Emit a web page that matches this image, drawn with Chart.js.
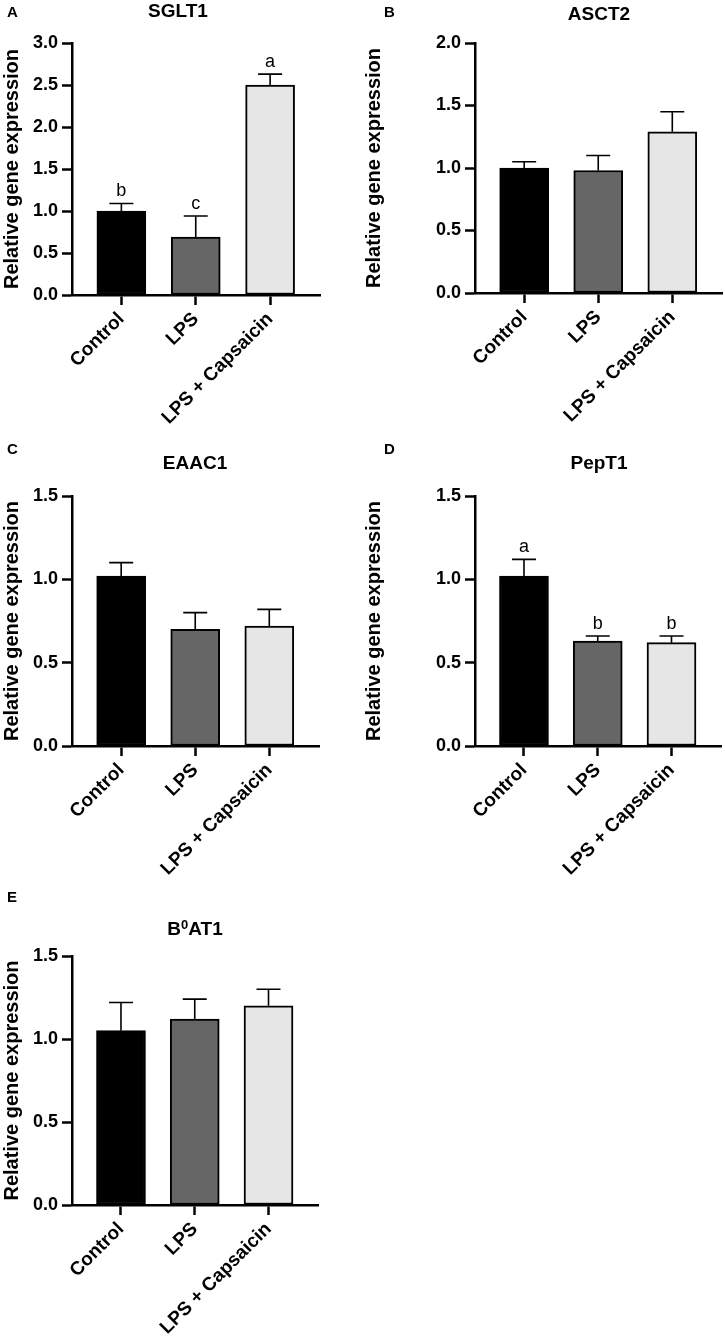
<!DOCTYPE html>
<html>
<head>
<meta charset="utf-8">
<script src="https://cdn.jsdelivr.net/npm/chart.js@4.4.1/dist/chart.umd.min.js"></script>
<style>
    body { margin: 0; background: #fff; }
    #page { position: relative; width: 725px; height: 1339px; overflow: hidden; }
    #page canvas { position: absolute; }
</style>
</head>
<body>
<div id="page">
    <canvas id="panelA" width="362" height="440" style="left:0;top:0"></canvas>
    <canvas id="panelB" width="363" height="440" style="left:362px;top:0"></canvas>
    <canvas id="panelC" width="362" height="450" style="left:0;top:440px"></canvas>
    <canvas id="panelD" width="363" height="450" style="left:362px;top:440px"></canvas>
    <canvas id="panelE" width="362" height="449" style="left:0;top:890px"></canvas>
</div>
<script>
// groups and bar colours
const groups = ['Control', 'LPS', 'LPS + Capsaicin'];
const barColors = ['#000000', '#666666', '#e6e6e6'];

// mean and SEM
const sglt1Mean = [1.00, 0.69, 2.50];
const sglt1Sem = [0.09, 0.25, 0.13];
const sglt1Sig = ['b', 'c', 'a'];

const asct2Mean = [1.00, 0.98, 1.29];
const asct2Sem = [0.05, 0.12, 0.16];

const eaac1Mean = [1.02, 0.70, 0.72];
const eaac1Sem = [0.08, 0.10, 0.10];

const pept1Mean = [1.02, 0.63, 0.62];
const pept1Sem = [0.10, 0.03, 0.04];
const pept1Sig = ['a', 'b', 'b'];

const b0at1Mean = [1.05, 1.12, 1.20];
const b0at1Sem = [0.17, 0.12, 0.10];

const FONT = "'Liberation Sans', Arial, Helvetica, sans-serif";
Chart.defaults.font.family = FONT;
Chart.defaults.color = '#000';

// upper error bars + significance letters
const errorBarPlugin = {
    id: 'errorBars',
    afterDatasetsDraw(chart, args, opts) {
        const ctx = chart.ctx;
        const meta = chart.getDatasetMeta(0);
        const yScale = chart.scales.y;
        ctx.save();
        ctx.strokeStyle = '#000';
        ctx.lineWidth = 1.6;
        meta.data.forEach((bar, i) => {
            const top = yScale.getPixelForValue(opts.mean[i] + opts.sem[i]);
            ctx.beginPath();
            ctx.moveTo(bar.x, bar.y);
            ctx.lineTo(bar.x, top);
            ctx.moveTo(bar.x - 12, top);
            ctx.lineTo(bar.x + 12, top);
            ctx.stroke();
            if (opts.sig) {
                ctx.fillStyle = '#000';
                ctx.font = '18px ' + FONT;
                ctx.textAlign = 'center';
                ctx.textBaseline = 'alphabetic';
                ctx.fillText(opts.sig[i], bar.x, top - 7);
            }
        });
        ctx.restore();
    }
};

// panel letter and gene name
const panelTextPlugin = {
    id: 'panelText',
    afterDraw(chart, args, opts) {
        const ctx = chart.ctx;
        ctx.save();
        ctx.fillStyle = '#000';
        ctx.textBaseline = 'middle';
        ctx.font = 'bold 15px ' + FONT;
        ctx.textAlign = 'left';
        ctx.fillText(opts.letter, opts.letterX, opts.letterY);

        ctx.font = 'bold 19px ' + FONT;
        if (opts.sup) {
            // title with a superscript part, e.g. B^0 AT1
            const [pre, sup, post] = opts.sup;
            const wPre = ctx.measureText(pre).width;
            const wPost = ctx.measureText(post).width;
            ctx.font = 'bold 13px ' + FONT;
            const wSup = ctx.measureText(sup).width;
            let x = opts.titleX - (wPre + wSup + wPost) / 2;
            ctx.font = 'bold 19px ' + FONT;
            ctx.fillText(pre, x, opts.titleY);
            x += wPre;
            ctx.font = 'bold 13px ' + FONT;
            ctx.fillText(sup, x, opts.titleY - 5);
            x += wSup;
            ctx.font = 'bold 19px ' + FONT;
            ctx.fillText(post, x, opts.titleY);
        } else {
            ctx.textAlign = 'center';
            ctx.fillText(opts.title, opts.titleX, opts.titleY);
        }
        ctx.restore();
    }
};

function makePanel(cfg) {
    const canvas = document.getElementById(cfg.id);
    const W = canvas.width;
    const H = canvas.height;
    const area = cfg.area; // [left, top, right, bottom] in canvas px

    return new Chart(canvas.getContext('2d'), {
        type: 'bar',
        data: {
            datasets: [{
                data: cfg.mean.map((v, i) => ({ x: i, y: v })),
                backgroundColor: barColors,
                borderColor: '#000',
                borderWidth: 2,
                borderSkipped: false,
                barThickness: 49
            }]
        },
        options: {
            responsive: false,
            animation: false,
            layout: {
                padding: { left: 0, top: area[1], right: W - area[2], bottom: 0 }
            },
            plugins: {
                legend: { display: false },
                tooltip: { enabled: false },
                errorBars: { mean: cfg.mean, sem: cfg.sem, sig: cfg.sig },
                panelText: cfg.text
            },
            scales: {
                x: {
                    type: 'linear',
                    offset: false,
                    min: -0.664,
                    max: 2.671,
                    afterBuildTicks: s => { s.ticks = [{ value: 0 }, { value: 1 }, { value: 2 }]; },
                    afterFit: s => { s.height = H - area[3]; },
                    ticks: {
                        autoSkip: false,
                        minRotation: 45,
                        maxRotation: 45,
                        padding: 3,
                        font: { size: 19, weight: 'bold' },
                        callback: v => groups[v]
                    },
                    grid: {
                        offset: false,
                        drawOnChartArea: false,
                        tickLength: 10,
                        tickWidth: 2.5,
                        tickColor: '#000'
                    },
                    border: { display: true, color: '#000', width: 2.5 }
                },
                y: {
                    min: 0,
                    max: cfg.yMax,
                    afterFit: s => { s.width = area[0]; },
                    ticks: {
                        stepSize: 0.5,
                        padding: 4,
                        font: { size: 18, weight: 'bold' },
                        callback: v => v.toFixed(1)
                    },
                    grid: {
                        drawOnChartArea: false,
                        tickLength: 10,
                        tickWidth: 2.5,
                        tickColor: '#000'
                    },
                    border: { display: true, color: '#000', width: 2.5 },
                    title: {
                        display: true,
                        text: 'Relative gene expression',
                        font: { size: 20, weight: 'bold' },
                        padding: 0
                    }
                }
            }
        },
        plugins: [errorBarPlugin, panelTextPlugin]
    });
}

makePanel({
    id: 'panelA', mean: sglt1Mean, sem: sglt1Sem, sig: sglt1Sig, yMax: 3.0,
    area: [72, 43, 320, 295],
    text: { letter: 'A', letterX: 7, letterY: 13, title: 'SGLT1', titleX: 178, titleY: 12 }
});
makePanel({
    id: 'panelB', mean: asct2Mean, sem: asct2Sem, yMax: 2.0,
    area: [113, 43, 360, 293],
    text: { letter: 'B', letterX: 22, letterY: 13, title: 'ASCT2', titleX: 237, titleY: 15 }
});
makePanel({
    id: 'panelC', mean: eaac1Mean, sem: eaac1Sem, yMax: 1.5,
    area: [72, 56, 319, 306],
    text: { letter: 'C', letterX: 7, letterY: 10, title: 'EAAC1', titleX: 195, titleY: 24 }
});
makePanel({
    id: 'panelD', mean: pept1Mean, sem: pept1Sem, sig: pept1Sig, yMax: 1.5,
    area: [113, 56, 359, 306],
    text: { letter: 'D', letterX: 22, letterY: 10, title: 'PepT1', titleX: 237, titleY: 24 }
});
makePanel({
    id: 'panelE', mean: b0at1Mean, sem: b0at1Sem, yMax: 1.5,
    area: [72, 66, 318, 315],
    text: { letter: 'E', letterX: 7, letterY: 8, sup: ['B', '0', 'AT1'], titleX: 195, titleY: 40 }
});
</script>
</body>
</html>
